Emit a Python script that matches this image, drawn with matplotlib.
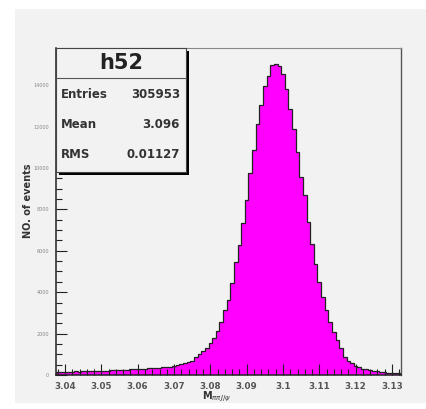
import numpy as np
import matplotlib.pyplot as plt
from matplotlib.patches import Rectangle
from matplotlib.ticker import MultipleLocator, FormatStrFormatter

plt.rcParams['font.family'] = ['DejaVu Sans']

# histogram h52, 95 bins of 0.001 between 3.0375 and 3.1325
x_lo, x_hi = 3.0375, 3.1325
counts = [150, 140, 160, 150, 165, 170, 160, 175, 180, 185,
          190, 200, 195, 210, 215, 230, 235, 250, 245, 260,
          270, 275, 290, 300, 310, 320, 340, 345, 350, 365,
          380, 410, 440, 480, 520, 560, 610, 700, 860, 1020,
          1150, 1287, 1527, 1767, 2120, 2570, 3133, 3615, 4450, 5462,
          6266, 7341, 8435, 9770, 10845, 12098, 13048, 13978, 14460, 14980,
          15040, 14900, 14540, 13820, 12855, 11890, 10765, 9560, 8676, 7390,
          6348, 5384, 4497, 3774, 3133, 2570, 2088, 1687, 1287, 884,
          700, 560, 450, 380, 310, 270, 230, 200, 170, 150,
          130, 110, 100, 90, 80]
edges = np.linspace(x_lo, x_hi, len(counts) + 1)

stat_names = ["Entries", "Mean", "RMS"]
stat_values = ["305953", "3.096", "0.01127"]

W, H = 426, 409
def fx(px):
    return px / W
def fy(py):
    return 1 - py / H

fig = plt.figure(figsize=(W / 100, H / 100), dpi=100)
fig.patch.set_facecolor('white')

# grey canvas behind everything
fig.patches.append(Rectangle((fx(15), fy(403)), fx(426) - fx(15), fy(9) - fy(403),
                             transform=fig.transFigure, facecolor='#f2f2f2',
                             edgecolor='none', zorder=-10))

ax = fig.add_axes([fx(56), fy(375), fx(401) - fx(56), fy(48) - fy(375)])
ax.set_facecolor('#f2f2f2')
ax.stairs(counts, edges, fill=True, color='#ff00ff', zorder=1)
ax.stairs(counts, edges, color='#222222', lw=0.9, zorder=1.5)

ax.set_xlim(x_lo, x_hi)
ax.set_ylim(0, max(counts) * 1.05)

ax.xaxis.set_major_locator(MultipleLocator(0.01))
ax.xaxis.set_minor_locator(MultipleLocator(0.002))
ax.xaxis.set_major_formatter(FormatStrFormatter('%g'))
ax.yaxis.set_major_locator(MultipleLocator(2000))
ax.yaxis.set_minor_locator(MultipleLocator(500))

ax.tick_params(which='both', direction='in', top=False, right=False, width=0.8, color='#222222')
ax.tick_params(which='major', length=8)
ax.tick_params(which='minor', length=4)
ax.tick_params(axis='x', labelsize=6.3, labelcolor='#555555', pad=5)
ax.tick_params(axis='y', labelsize=3.5, labelcolor='#888888', pad=5)
for lab in ax.get_xticklabels():
    lab.set_fontweight('bold')

for s in ['left', 'bottom']:
    ax.spines[s].set_color('#222222')
    ax.spines[s].set_linewidth(1.1)
ax.spines['top'].set_color('#888888')
ax.spines['top'].set_linewidth(0.8)
ax.spines['right'].set_color('#555555')
ax.spines['right'].set_linewidth(1.0)

fig.text(fx(28), fy(201), 'NO. of events', rotation=90, fontsize=7,
         fontweight='bold', color='#333333', ha='center', va='center')
fig.text(fx(202), fy(397), r'$\mathbf{M}_{\pi\pi J/\psi}$', fontsize=7,
         color='#333333', ha='left', va='center')

# stats box with shadow
bx0, by0, bx1, by1 = 56, 48, 186, 172
fig.patches.append(Rectangle((fx(bx0 + 3), fy(by1 + 3)), fx(bx1) - fx(bx0), fy(by0) - fy(by1),
                             transform=fig.transFigure, facecolor='black',
                             edgecolor='none', zorder=5))
fig.patches.append(Rectangle((fx(bx0), fy(by1)), fx(bx1) - fx(bx0), fy(by0) - fy(by1),
                             transform=fig.transFigure, facecolor='#f2f2f2',
                             edgecolor='#444444', lw=0.8, zorder=6))
fig.lines.append(plt.Line2D([fx(bx0), fx(bx1)], [fy(78), fy(78)], transform=fig.transFigure,
                            color='#555555', lw=0.8, zorder=7))
fig.text(fx(121), fy(63), 'h52', fontsize=15, fontweight='bold', color='#222222',
         ha='center', va='center', zorder=8)
for i, (name, val) in enumerate(zip(stat_names, stat_values)):
    y = 94 + i * 30.5
    fig.text(fx(61), fy(y), name, fontsize=8.5, fontweight='bold', color='#333333',
             ha='left', va='center', zorder=8)
    fig.text(fx(180), fy(y), val, fontsize=8.5, fontweight='bold', color='#333333',
             ha='right', va='center', zorder=8)

fig.savefig('out.png', dpi=100)
